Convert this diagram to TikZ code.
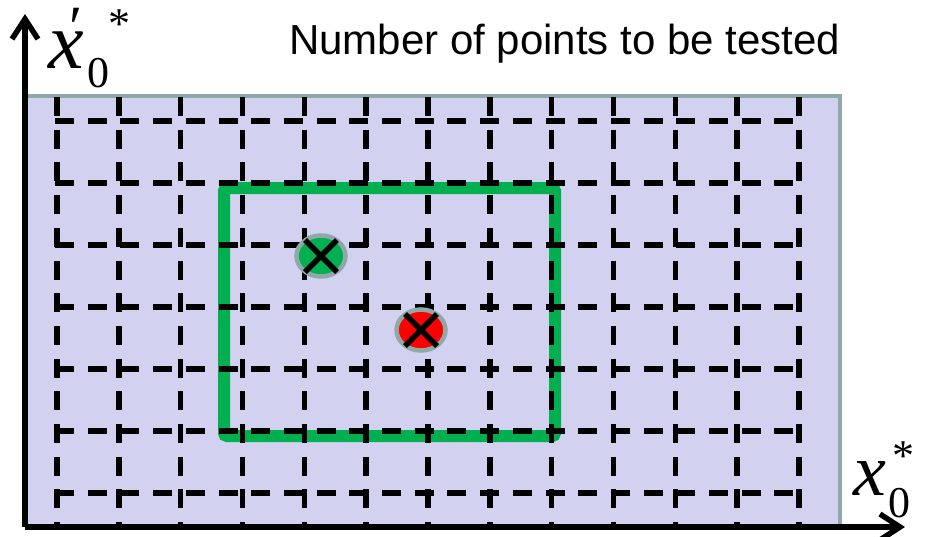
\documentclass[tikz,border=0pt]{standalone}
\usepackage{fontspec}
\setmainfont{Liberation Serif}
\newfontfamily\arialf{Liberation Sans}
\newfontfamily\tnr{Liberation Serif}
\usetikzlibrary{arrows.meta,shapes.geometric,calc}
\definecolor{lav}{RGB}{210,210,240}
\definecolor{edgegray}{RGB}{143,168,168}
\definecolor{offgreen}{RGB}{0,176,80}
\definecolor{offred}{RGB}{255,0,0}
\tikzset{
  axisline/.style={line width=5.5pt,-{Straight Barb[length=20pt,width=26pt,line width=5.5pt]}},
  gridline/.style={line width=5.5pt,dash pattern=on 19pt off 13.7pt},
  marker/.style={ellipse,draw=edgegray,line width=4.5pt,inner sep=0pt},
  xmark/.style={line width=5.5pt},
  bigx/.style={inner sep=0pt,font=\tnr\itshape\fontsize{80}{80}\selectfont},
  smallidx/.style={inner sep=0pt,font=\tnr\fontsize{44}{44}\selectfont},
}
\begin{document}
\begin{tikzpicture}[x=1pt,y=-1pt]
\useasboundingbox (0,0) rectangle (927,536);
% plot area
\fill[lav] (25,96) rectangle (840,527);
\draw[edgegray,line width=4.5pt] (25,96) -- (840,96) -- (840,527);
% green region
\draw[offgreen,line width=12pt,rounded corners=3pt] (224,188) rectangle (555,436);
% grid
\foreach \i in {0,...,12} {
  \draw[gridline] (57+61.83*\i,97) -- (57+61.83*\i,525);
}
\foreach \j in {0,...,6} {
  \draw[gridline] (55,121+62*\j) -- (800,121+62*\j);
}
% markers
\node[marker,fill=offgreen,minimum width=49pt,minimum height=41pt] (g) at (321,256) {};
\node[marker,fill=offred,minimum width=49pt,minimum height=41pt] (r) at (421,330) {};
\draw[xmark] ($(g)+(-16,-16)$) -- ($(g)+(16,16)$);
\draw[xmark] ($(g)+(16,-16)$) -- ($(g)+(-16,16)$);
\draw[xmark] ($(r)+(-16,-16)$) -- ($(r)+(16,16)$);
\draw[xmark] ($(r)+(16,-16)$) -- ($(r)+(-16,16)$);
% axes
\coordinate (O) at (25,527);
\coordinate (ytip) at (25,14);
\coordinate (xtip) at (905,527);
\draw[axisline] (O) -- (ytip);
\draw[axisline] (O) -- (xtip);
% labels
\node[font=\arialf\fontsize{42}{42}\selectfont,inner sep=0pt,anchor=base west] (title) at (289,54) {Number of points to be tested};
\node[bigx,anchor=base] (yx) at (66,68) {x};
\node[inner sep=0pt,font=\tnr\fontsize{60}{60}\selectfont] (yprime) at (76,28) {′};
\node[smallidx,anchor=base] (ysub) at (98,87) {0};
\node[smallidx] (ystar) at (119,24) {*};
\node[bigx,anchor=base,font=\tnr\itshape\fontsize{74}{74}\selectfont] (xx) at (870,495) {x};
\node[smallidx,anchor=base] (xsub) at (899,517) {0};
\node[smallidx] (xstar) at (903,456) {*};
\end{tikzpicture}
\end{document}
